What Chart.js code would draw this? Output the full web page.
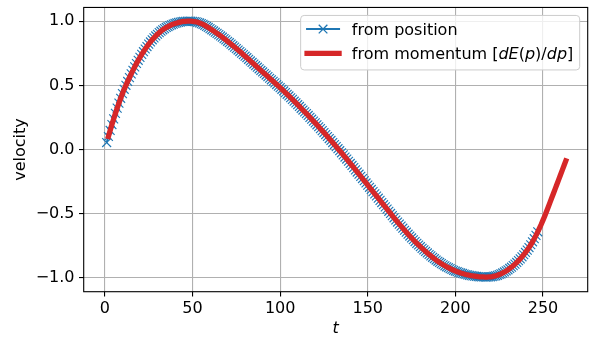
<!DOCTYPE html>
<html lang="en">
<head>
<meta charset="UTF-8" />
<title>Velocity</title>
<script src="https://cdn.jsdelivr.net/npm/chart.js"></script>
<style>
  html, body { margin: 0; padding: 0; background: #fff; }
  #wrap { width: 597px; height: 343px; }
</style>
</head>
<body>
<div id="wrap"><canvas id="velocityChart" width="597" height="343"></canvas></div>
<script>
// velocity per time step, first entry is t = 1
const velocity = [
  0.055, 0.102, 0.149, 0.195, 0.239, 0.282, 0.323, 0.362, 0.400, 0.436,
  0.470, 0.501, 0.531, 0.561, 0.590, 0.618, 0.645, 0.671, 0.696, 0.719,
  0.742, 0.763, 0.784, 0.803, 0.822, 0.839, 0.856, 0.871, 0.886, 0.899,
  0.912, 0.923, 0.934, 0.943, 0.952, 0.959, 0.966, 0.973, 0.978, 0.983,
  0.987, 0.991, 0.994, 0.997, 0.999, 1.000, 1.001, 1.001, 1.001, 1.000,
  0.998, 0.996, 0.992, 0.987, 0.982, 0.976, 0.969, 0.960, 0.952, 0.943,
  0.934, 0.925, 0.915, 0.906, 0.896, 0.886, 0.876, 0.865, 0.855, 0.844,
  0.833, 0.822, 0.810, 0.799, 0.787, 0.776, 0.764, 0.752, 0.740, 0.728,
  0.716, 0.704, 0.691, 0.679, 0.667, 0.654, 0.642, 0.630, 0.617, 0.605,
  0.593, 0.581, 0.569, 0.556, 0.544, 0.532, 0.520, 0.507, 0.495, 0.483,
  0.470, 0.457, 0.444, 0.431, 0.418, 0.404, 0.391, 0.377, 0.364, 0.350,
  0.336, 0.322, 0.308, 0.294, 0.280, 0.266, 0.251, 0.237, 0.222, 0.208,
  0.193, 0.178, 0.163, 0.148, 0.133, 0.117, 0.102, 0.086, 0.071, 0.055,
  0.039, 0.023, 0.007, -0.009, -0.025, -0.041, -0.058, -0.074, -0.091, -0.108,
  -0.124, -0.141, -0.158, -0.175, -0.192, -0.209, -0.226, -0.243, -0.260, -0.277,
  -0.294, -0.311, -0.328, -0.345, -0.362, -0.379, -0.396, -0.413, -0.430, -0.447,
  -0.464, -0.481, -0.498, -0.515, -0.532, -0.549, -0.565, -0.581, -0.597, -0.613,
  -0.629, -0.644, -0.660, -0.674, -0.689, -0.703, -0.717, -0.731, -0.744, -0.757,
  -0.770, -0.782, -0.794, -0.806, -0.818, -0.829, -0.840, -0.851, -0.861, -0.871,
  -0.880, -0.889, -0.898, -0.906, -0.914, -0.921, -0.928, -0.935, -0.941, -0.947,
  -0.952, -0.957, -0.962, -0.966, -0.970, -0.974, -0.977, -0.980, -0.983, -0.985,
  -0.987, -0.989, -0.991, -0.992, -0.993, -0.993, -0.994, -0.994, -0.993, -0.992,
  -0.990, -0.987, -0.984, -0.980, -0.974, -0.969, -0.962, -0.954, -0.946, -0.937,
  -0.927, -0.917, -0.905, -0.893, -0.880, -0.866, -0.852, -0.836, -0.820, -0.802,
  -0.784, -0.764, -0.742, -0.719, -0.695, -0.669, -0.641, -0.612, -0.582, -0.550,
  -0.517, -0.483, -0.448, -0.412, -0.376, -0.340, -0.304, -0.268, -0.232, -0.196,
  -0.160, -0.124, -0.088
];

// time range covered by each estimate
const positionSteps = [1, 247];
const momentumSteps = [2, 263];

const xTicks = [0, 50, 100, 150, 200, 250];
const yTicks = [-1.0, -0.5, 0.0, 0.5, 1.0];

const positionLabel = [["from position", false]];
// [text, italic] pieces, the bracket part is typeset as math
const momentumLabel = [
  ["from momentum [", false], ["dE", true], ["(", false], ["p", true],
  [")/", false], ["dp", true], ["]", false]
];

const BLUE = "#1f77b4";
const RED = "#d62728";
const FONT = '"DejaVu Sans", sans-serif';

const pointsFor = ([first, last]) =>
  velocity.slice(first - 1, last).map((v, i) => ({ x: first + i, y: v }));

const minusSign = (s) => s.replace("-", "\u2212");

function drawPieces(ctx, pieces, x, y) {
  pieces.forEach(([text, italic]) => {
    ctx.font = (italic ? "italic " : "") + "16px " + FONT;
    ctx.fillText(text, x, y);
    x += ctx.measureText(text).width;
  });
  return x;
}

function piecesWidth(ctx, pieces) {
  let w = 0;
  pieces.forEach(([text, italic]) => {
    ctx.font = (italic ? "italic " : "") + "16px " + FONT;
    w += ctx.measureText(text).width;
  });
  return w;
}

// fixed axis sizes so the plotting area does not move with the labels
function fixSize(prop, size) {
  return (scale) => {
    scale[prop] = size;
    scale.paddingTop = 0;
    scale.paddingBottom = 0;
    scale.paddingLeft = 0;
    scale.paddingRight = 0;
  };
}

// black box around the plotting area, like axes spines
const framePlugin = {
  id: "frame",
  afterDatasetsDraw(chart) {
    const { ctx, chartArea: a } = chart;
    ctx.save();
    ctx.strokeStyle = "#000";
    ctx.lineWidth = 1.1;
    ctx.strokeRect(a.left, a.top, a.right - a.left, a.bottom - a.top);
    ctx.restore();
  },
};

// legend in the upper right corner with a line + marker sample per series
const legendPlugin = {
  id: "cornerLegend",
  afterDraw(chart) {
    const { ctx, chartArea: a } = chart;
    const em = 16;
    const pad = 0.4 * em, handle = 2 * em, gap = 0.8 * em;
    const textW = Math.max(piecesWidth(ctx, positionLabel), piecesWidth(ctx, momentumLabel));
    const w = pad + handle + gap + textW + pad;
    const h = 54.5;
    const right = a.right - 0.5 * em;
    const top = a.top + 0.5 * em;
    const left = right - w;

    ctx.save();
    ctx.beginPath();
    ctx.roundRect(left, top, w, h, 3.5);
    ctx.fillStyle = "rgba(255,255,255,0.8)";
    ctx.fill();
    ctx.strokeStyle = "#cccccc";
    ctx.lineWidth = 1;
    ctx.stroke();

    const rows = [top + 13.6, top + 38];
    const hx = left + pad;

    // from position: thin blue line with an x marker
    ctx.lineCap = "square";
    ctx.strokeStyle = BLUE;
    ctx.lineWidth = 2;
    ctx.beginPath();
    ctx.moveTo(hx, rows[0]);
    ctx.lineTo(hx + handle, rows[0]);
    ctx.stroke();
    ctx.lineCap = "butt";
    ctx.lineWidth = 1.33;
    ctx.beginPath();
    const cx = hx + handle / 2, r = 4.3;
    ctx.moveTo(cx - r, rows[0] - r); ctx.lineTo(cx + r, rows[0] + r);
    ctx.moveTo(cx - r, rows[0] + r); ctx.lineTo(cx + r, rows[0] - r);
    ctx.stroke();

    // from momentum: thick red line
    ctx.lineCap = "square";
    ctx.strokeStyle = RED;
    ctx.lineWidth = 5.3;
    ctx.beginPath();
    ctx.moveTo(hx, rows[1]);
    ctx.lineTo(hx + handle, rows[1]);
    ctx.stroke();

    ctx.fillStyle = "#000";
    ctx.textBaseline = "alphabetic";
    ctx.textAlign = "left";
    drawPieces(ctx, positionLabel, hx + handle + gap, rows[0] + 5.8);
    drawPieces(ctx, momentumLabel, hx + handle + gap, rows[1] + 5.8);
    ctx.restore();
  },
};

const tickFont = { family: FONT, size: 16 };

new Chart(document.getElementById("velocityChart").getContext("2d"), {
  type: "line",
  data: {
    datasets: [
      {
        label: "from momentum",
        data: pointsFor(momentumSteps),
        borderColor: RED,
        backgroundColor: RED,
        borderWidth: 5.3,
        borderCapStyle: "square",
        borderJoinStyle: "round",
        pointRadius: 0,
        tension: 0,
        order: 0,
      },
      {
        label: "from position",
        data: pointsFor(positionSteps),
        borderColor: BLUE,
        backgroundColor: BLUE,
        borderWidth: 2,
        pointStyle: "crossRot",
        pointRadius: 6.3,
        pointBorderWidth: 1.15,
        pointBorderColor: BLUE,
        tension: 0,
        order: 1,
      },
    ],
  },
  options: {
    responsive: false,
    devicePixelRatio: 1,
    animation: false,
    events: [],
    layout: { padding: { top: 5.7, right: 9.3, left: 0, bottom: 0 } },
    plugins: {
      legend: { display: false },
      tooltip: { enabled: false },
    },
    scales: {
      x: {
        type: "linear",
        min: -12.1,
        max: 275.5,
        afterBuildTicks: (scale) => { scale.ticks = xTicks.map((v) => ({ value: v })); },
        afterFit: fixSize("height", 51.3),
        border: { display: false },
        grid: {
          color: "#b0b0b0",
          lineWidth: 1.1,
          tickColor: "#000",
          tickLength: 4.7,
          tickWidth: 1.1,
        },
        ticks: {
          color: "#000",
          font: tickFont,
          padding: 2.5,
          maxRotation: 0,
          autoSkip: false,
          callback: (v) => String(v),
        },
        title: {
          display: true,
          text: "t",
          color: "#000",
          font: { family: FONT, size: 16, style: "italic" },
          padding: { top: 0, bottom: 4.5 },
        },
      },
      y: {
        type: "linear",
        min: -1.108,
        max: 1.108,
        afterBuildTicks: (scale) => { scale.ticks = yTicks.map((v) => ({ value: v })); },
        afterFit: fixSize("width", 83.7),
        border: { display: false },
        grid: {
          color: "#b0b0b0",
          lineWidth: 1.1,
          tickColor: "#000",
          tickLength: 4.7,
          tickWidth: 1.1,
        },
        ticks: {
          color: "#000",
          font: tickFont,
          padding: 4.5,
          autoSkip: false,
          callback: (v) => minusSign(v.toFixed(1)),
        },
        title: {
          display: true,
          text: "velocity",
          color: "#000",
          font: { family: FONT, size: 16 },
          padding: { top: 11.5, bottom: 0 },
        },
      },
    },
  },
  plugins: [framePlugin, legendPlugin],
});
</script>
</body>
</html>
